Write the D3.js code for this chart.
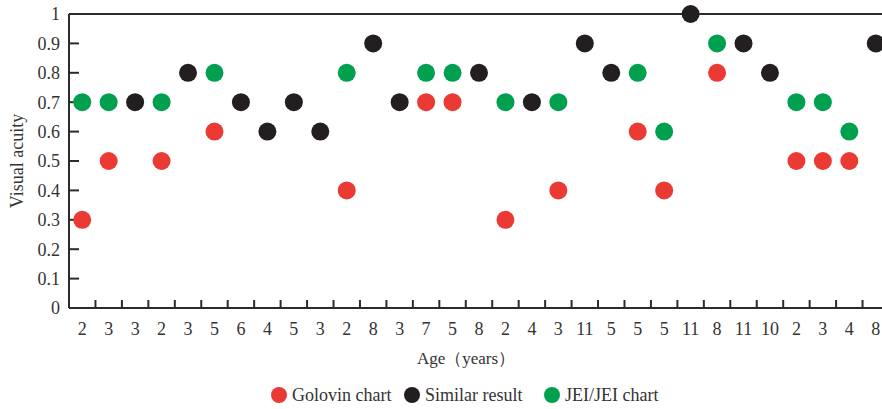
<!DOCTYPE html>
<html>
<head>
<meta charset="utf-8">
<script src="https://cdn.jsdelivr.net/npm/d3@7"></script>
<style>
  body { margin: 0; background: #fff; }
  svg { display: block; font-family: "Liberation Serif", "DejaVu Serif", serif; }
</style>
</head>
<body>
<div id="root"></div>
<script>
const width = 882;
const height = 409;

// x categories (age of each patient)
const ages = ['2','3','3','2','3','5','6','4','5','3','2','8','3','7','5','8','2','4','3','11','5','5','5','11','8','11','10','2','3','4','8'];

// null = no dot for that series
const golovin = [0.3,0.5,null,0.5,null,0.6,null,null,null,null,0.4,null,null,0.7,0.7,null,0.3,null,0.4,null,null,0.6,0.4,null,0.8,null,null,0.5,0.5,0.5,null];
const similar = [null,null,0.7,null,0.8,null,0.7,0.6,0.7,0.6,null,0.9,0.7,null,null,0.8,null,0.7,null,0.9,0.8,null,null,1.0,null,0.9,0.8,null,null,null,0.9];
const jei     = [0.7,0.7,null,0.7,null,0.8,null,null,null,null,0.8,null,null,0.8,0.8,null,0.7,null,0.7,null,null,0.8,0.6,null,0.9,null,null,0.7,0.7,0.6,null];

const yTicks = [0,0.1,0.2,0.3,0.4,0.5,0.6,0.7,0.8,0.9,1];

const series = [
    {name: 'Golovin chart', color: '#ea3a33', values: golovin},
    {name: 'Similar result', color: '#231f20', values: similar},
    {name: 'JEI/JEI chart', color: '#00a04e', values: jei}
];

const margin = {left: 69, top: 14, bottom: 101};
const plotRight = 889;

const svg = d3.select('#root')
    .append('svg')
    .attr('width', width)
    .attr('height', height);

const x = d3.scaleBand()
    .domain(d3.range(ages.length))
    .range([margin.left, plotRight]);

const y = d3.scaleLinear()
    .domain([0, 1])
    .range([height - margin.bottom, margin.top]);

const axisColor = '#2b2b2b';

// frame: left, bottom, top
svg.append('line')
    .attr('x1', margin.left).attr('x2', margin.left)
    .attr('y1', y(0)).attr('y2', y(1))
    .attr('stroke', axisColor).attr('stroke-width', 2);
svg.append('line')
    .attr('x1', margin.left).attr('x2', width)
    .attr('y1', y(0)).attr('y2', y(0))
    .attr('stroke', axisColor).attr('stroke-width', 2);
svg.append('line')
    .attr('x1', margin.left).attr('x2', width)
    .attr('y1', y(1)).attr('y2', y(1))
    .attr('stroke', axisColor).attr('stroke-width', 2);

// y ticks pointing inward
svg.selectAll('.ytick')
    .data(yTicks.filter(d => d > 0 && d < 1))
    .join('line')
    .attr('x1', margin.left).attr('x2', margin.left + 10)
    .attr('y1', d => y(d)).attr('y2', d => y(d))
    .attr('stroke', axisColor).attr('stroke-width', 2);

svg.selectAll('.ylabel')
    .data(yTicks)
    .join('text')
    .attr('x', 60)
    .attr('y', d => y(d))
    .attr('dy', '0.35em')
    .attr('text-anchor', 'end')
    .attr('font-size', 18)
    .attr('fill', '#333')
    .text(d => d === 0 ? '0' : d === 1 ? '1' : d3.format('.1f')(d));

// x ticks at band boundaries
svg.selectAll('.xtick')
    .data(d3.range(1, ages.length))
    .join('line')
    .attr('x1', i => x(i)).attr('x2', i => x(i))
    .attr('y1', y(0)).attr('y2', y(0) - 8)
    .attr('stroke', axisColor).attr('stroke-width', 2);

svg.selectAll('.xlabel')
    .data(ages)
    .join('text')
    .attr('x', (d, i) => x(i) + x.bandwidth() / 2)
    .attr('y', y(0) + 27)
    .attr('text-anchor', 'middle')
    .attr('font-size', 18)
    .attr('fill', '#333')
    .text(d => d);

// axis titles
svg.append('text')
    .attr('transform', `translate(23,${(y(0) + y(1)) / 2}) rotate(-90)`)
    .attr('text-anchor', 'middle')
    .attr('font-size', 18)
    .attr('fill', '#333')
    .text('Visual acuity');

svg.append('text')
    .attr('x', 466)
    .attr('y', 364)
    .attr('text-anchor', 'middle')
    .attr('font-size', 17)
    .attr('fill', '#333')
    .text('Age（years）');

// dots
series.forEach(s => {
    svg.append('g')
        .selectAll('circle')
        .data(s.values.map((v, i) => ({v, i})).filter(d => d.v !== null))
        .join('circle')
        .attr('cx', d => x(d.i) + x.bandwidth() / 2)
        .attr('cy', d => y(d.v))
        .attr('r', 9)
        .attr('fill', s.color);
});

// legend
const legendPos = [279, 412, 552];
const legend = svg.selectAll('.legend')
    .data(series)
    .join('g')
    .attr('transform', (d, i) => `translate(${legendPos[i]},395)`);
legend.append('circle')
    .attr('r', 8)
    .attr('fill', d => d.color);
legend.append('text')
    .attr('x', 13)
    .attr('dy', '0.35em')
    .attr('font-size', 18)
    .attr('fill', '#333')
    .text(d => d.name);
</script>
</body>
</html>
